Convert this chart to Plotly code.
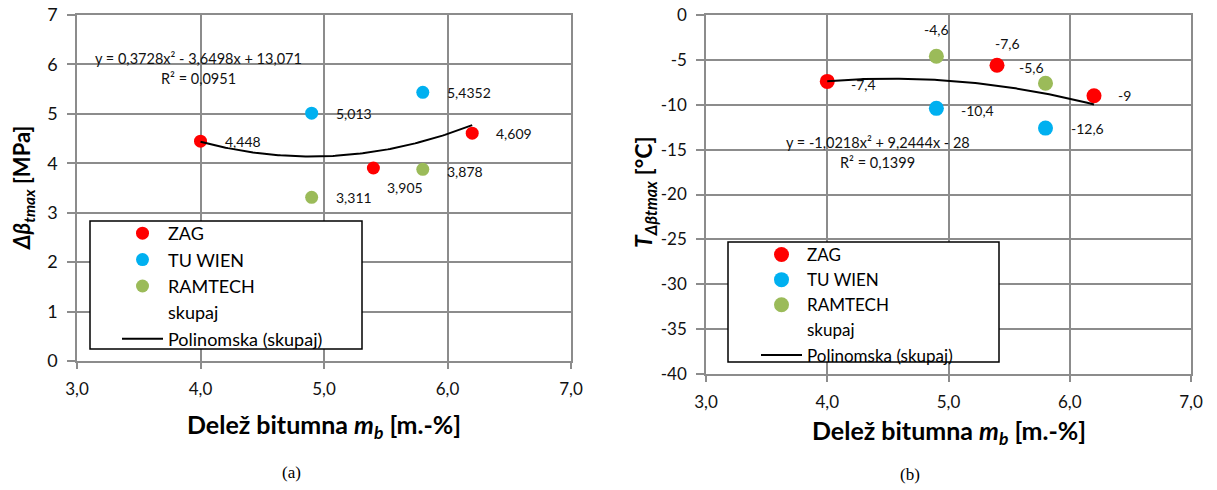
import numpy as np
import plotly.graph_objects as go

# ---------------- data ----------------
series_names = ["ZAG", "TU WIEN", "RAMTECH"]
x_zag = [4.0, 5.4, 6.2]
x_tuw = [4.9, 5.8]
x_ram = [4.9, 5.8]

dbeta_zag = [4.448, 3.905, 4.609]
dbeta_tuw = [5.013, 5.4352]
dbeta_ram = [3.311, 3.878]
dbeta_zag_labels = ["4,448", "3,905", "4,609"]
dbeta_tuw_labels = ["5,013", "5,4352"]
dbeta_ram_labels = ["3,311", "3,878"]

temp_zag = [-7.4, -5.6, -9.0]
temp_tuw = [-10.4, -12.6]
temp_ram = [-4.6, -7.6]
temp_zag_labels = ["-7,4", "-7,6", "-9"]
temp_tuw_labels = ["-10,4", "-12,6"]
temp_ram_labels = ["-4,6", "-5,6"]

fit_dbeta = [0.3728, -3.6498, 13.071]
fit_temp = [-1.0218, 9.2444, -28.0]
eq_dbeta = ["y = 0,3728x² - 3,6498x + 13,071", "R² = 0,0951"]
eq_temp = ["y = -1,0218x² + 9,2444x - 28", "R² = 0,1399"]

x_ticks = [3, 4, 5, 6, 7]
x_tick_labels = ["3,0", "4,0", "5,0", "6,0", "7,0"]
dbeta_ticks = [0, 1, 2, 3, 4, 5, 6, 7]
dbeta_tick_labels = ["0", "1", "2", "3", "4", "5", "6", "7"]
temp_ticks = [0, -5, -10, -15, -20, -25, -30, -35, -40]
temp_tick_labels = ["0", "-5", "-10", "-15", "-20", "-25", "-30", "-35", "-40"]

# ---------------- styles ----------------
W, H = 1217, 490
FONT = "Lato"
colors = {"ZAG": "#FF0000", "TU WIEN": "#00B0F0", "RAMTECH": "#9BBB59"}
GRID = "#8C8C8C"

def px_x(p):
    return p / W

def px_y(p):
    return 1 - p / H

fig = go.Figure()

panels = [
    dict(xa="x", ya="y", legend="legend",
         xs=[x_zag, x_tuw, x_ram], ys=[dbeta_zag, dbeta_tuw, dbeta_ram],
         labels=[dbeta_zag_labels, dbeta_tuw_labels, dbeta_ram_labels],
         fit=fit_dbeta, msize=13),
    dict(xa="x2", ya="y2", legend="legend2",
         xs=[x_zag, x_tuw, x_ram], ys=[temp_zag, temp_tuw, temp_ram],
         labels=[temp_zag_labels, temp_tuw_labels, temp_ram_labels],
         fit=fit_temp, msize=15),
]

# label placement (xshift, yshift, xanchor) per panel / series / point
placements = [
    [[(22, 0, "left"), (12, -20, "left"), (22, 0, "left")],
     [(22, 0, "left"), (22, 0, "left")],
     [(22, 0, "left"), (22, -2, "left")]],
    [[(22, -3, "left"), (10, 22, "center"), (22, 0, "left")],
     [(23, -2, "left"), (23, 0, "left")],
     [(0, 27, "center"), (-14, 16, "center")]],
]

annotations = []
for pi, p in enumerate(panels):
    for si, name in enumerate(series_names):
        fig.add_trace(go.Scatter(
            x=p["xs"][si], y=p["ys"][si], mode="markers", name=name,
            marker=dict(color=colors[name], size=p["msize"]),
            xaxis=p["xa"], yaxis=p["ya"], legend=p["legend"]))
        for k, (xv, yv) in enumerate(zip(p["xs"][si], p["ys"][si])):
            dx, dy, anc = placements[pi][si][k]
            annotations.append(dict(
                x=xv, y=yv, xref=p["xa"], yref=p["ya"], text=p["labels"][si][k],
                showarrow=False, xshift=dx, yshift=dy, xanchor=anc, yanchor="middle",
                font=dict(family=FONT, size=14, color="#111")))
    all_x = sum(p["xs"], [])
    all_y = sum(p["ys"], [])
    fig.add_trace(go.Scatter(
        x=all_x, y=all_y, mode="markers", name="skupaj",
        marker=dict(color="rgba(0,0,0,0)", size=p["msize"]),
        xaxis=p["xa"], yaxis=p["ya"], legend=p["legend"], hoverinfo="skip"))
    xf = np.linspace(min(all_x), max(all_x), 120)
    yf = np.polyval(p["fit"], xf)
    fig.add_trace(go.Scatter(
        x=xf, y=yf, mode="lines", name="Polinomska (skupaj)",
        line=dict(color="black", width=2),
        xaxis=p["xa"], yaxis=p["ya"], legend=p["legend"]))

# trendline equations
annotations += [
    dict(x=3.98, y=6.13, xref="x", yref="y", text=eq_dbeta[0]),
    dict(x=3.98, y=5.72, xref="x", yref="y", text=eq_dbeta[1]),
    dict(x=4.418, y=-14.25, xref="x2", yref="y2", text=eq_temp[0]),
    dict(x=4.418, y=-16.48, xref="x2", yref="y2", text=eq_temp[1]),
]
for a in annotations[-4:]:
    a.update(showarrow=False, xanchor="center", yanchor="middle",
             font=dict(family=FONT, size=14.5, color="#111"))

# axis titles and captions
xtitle = "<b>Delež bitumna <i>m<sub>b</sub></i> [m.-%]</b>"
annotations += [
    dict(x=px_x(324), y=px_y(426), text=xtitle, font=dict(family=FONT, size=25, color="black")),
    dict(x=px_x(948.5), y=px_y(432), text=xtitle, font=dict(family=FONT, size=25, color="black")),
    dict(x=px_x(23), y=px_y(188), text="<b><i>Δβ<sub>tmax</sub></i> [MPa]</b>", textangle=-90,
         font=dict(family=FONT, size=22, color="black")),
    dict(x=px_x(644), y=px_y(192), text="<b><i>T<sub>Δβtmax</sub></i> [°C]</b>", textangle=-90,
         font=dict(family=FONT, size=23, color="black")),
    dict(x=px_x(291), y=px_y(472), text="(a)", font=dict(family="Liberation Serif", size=17, color="black")),
    dict(x=px_x(910), y=px_y(474), text="(b)", font=dict(family="Liberation Serif", size=17, color="black")),
]
for a in annotations[-6:]:
    a.update(xref="paper", yref="paper", showarrow=False, xanchor="center", yanchor="middle")

# legend boxes
shapes = [
    dict(type="rect", xref="paper", yref="paper", x0=px_x(90), x1=px_x(362), y0=px_y(349), y1=px_y(221),
         fillcolor="white", line=dict(color="black", width=1.5), layer="above"),
    dict(type="rect", xref="paper", yref="paper", x0=px_x(728), x1=px_x(999), y0=px_y(362), y1=px_y(242),
         fillcolor="white", line=dict(color="black", width=1.5), layer="above"),
]

axis_common = dict(showgrid=True, gridcolor=GRID, gridwidth=1.5, showline=True, linecolor=GRID,
                   linewidth=1.5, mirror=True, ticks="outside", tickcolor=GRID, tickwidth=1.5,
                   zeroline=False, tickmode="array", automargin=False)

fig.update_layout(
    width=W, height=H, margin=dict(l=0, r=0, t=0, b=0, autoexpand=False),
    paper_bgcolor="white", plot_bgcolor="white", showlegend=True,
    font=dict(family=FONT, color="#111"),
    xaxis=dict(domain=[px_x(77), px_x(571)], range=[3, 7], tickvals=x_ticks, ticktext=x_tick_labels,
               ticklen=6, ticklabelstandoff=6, tickfont=dict(size=17), anchor="y", **axis_common),
    yaxis=dict(domain=[px_y(361), px_y(15)], range=[0, 7], tickvals=dbeta_ticks, ticktext=dbeta_tick_labels,
               ticklen=8, ticklabelstandoff=6, tickfont=dict(size=18), anchor="x", **axis_common),
    xaxis2=dict(domain=[px_x(706), px_x(1191)], range=[3, 7], tickvals=x_ticks, ticktext=x_tick_labels,
                ticklen=6, ticklabelstandoff=6, tickfont=dict(size=17), anchor="y2", **axis_common),
    yaxis2=dict(domain=[px_y(374), px_y(15)], range=[-40, 0], tickvals=temp_ticks, ticktext=temp_tick_labels,
                ticklen=8, ticklabelstandoff=6, tickfont=dict(size=17), anchor="x2", **axis_common),
    legend=dict(x=px_x(117), y=px_y(215), xanchor="left", yanchor="top", bgcolor="rgba(0,0,0,0)",
                borderwidth=0, itemwidth=41, font=dict(family=FONT, size=18, color="black"),
                traceorder="normal"),
    legend2=dict(x=px_x(756), y=px_y(237), xanchor="left", yanchor="top", bgcolor="rgba(0,0,0,0)",
                 borderwidth=0, itemwidth=41, font=dict(family=FONT, size=17, color="black"),
                 traceorder="normal"),
    annotations=annotations, shapes=shapes,
)

fig.write_html("out.html", config={"displayModeBar": False},
               post_script="document.body.style.margin='0';document.body.style.padding='0';")
